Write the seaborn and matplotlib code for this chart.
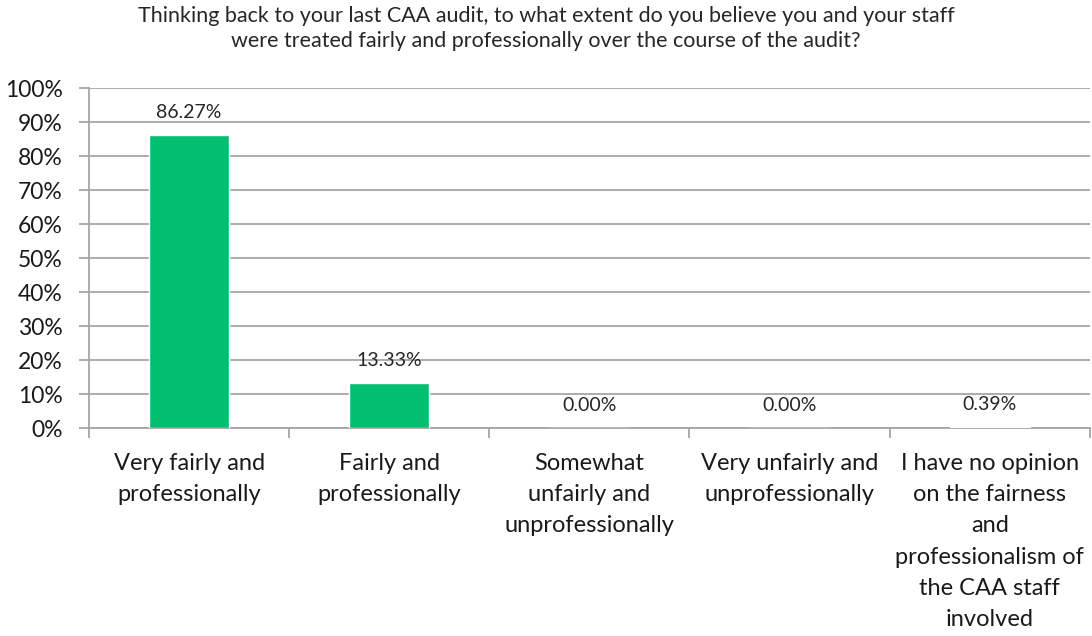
import matplotlib
matplotlib.use("Agg")
import matplotlib.pyplot as plt
import seaborn as sns
import pandas as pd
from matplotlib.ticker import FixedLocator

categories = [
    "Very fairly and\nprofessionally",
    "Fairly and\nprofessionally",
    "Somewhat\nunfairly and\nunprofessionally",
    "Very unfairly and\nunprofessionally",
    "I have no opinion\non the fairness\nand\nprofessionalism of\nthe CAA staff\ninvolved",
]
values = [86.27, 13.33, 0.00, 0.00, 0.39]
value_labels = ["86.27%", "13.33%", "0.00%", "0.00%", "0.39%"]
yticks = [0, 10, 20, 30, 40, 50, 60, 70, 80, 90, 100]
title = ("Thinking back to your last CAA audit, to what extent do you believe you and your staff\n"
         "were treated fairly and professionally over the course of the audit?")

sns.set_style("white")
plt.rcParams['font.family'] = ['Lato', 'DejaVu Sans']

df = pd.DataFrame({"cat": categories, "val": values})

fig = plt.figure(figsize=(10.92, 6.36), dpi=100)
ax = fig.add_axes([0.0815, 0.327, 0.9165, 0.5345])

sns.barplot(data=df, x="cat", y="val", color="#00BF6F", width=0.4, saturation=1,
            ax=ax, zorder=3)

ax.set_ylim(0, 100)
ax.set_xlim(-0.5, len(categories) - 0.5)
ax.set_yticks(yticks)
ax.set_yticklabels([f"{t}%" for t in yticks], fontsize=16.5, color="#1a1a1a")
ax.yaxis.grid(True, color="#A6A6A6", linewidth=1.3, zorder=0)
ax.set_axisbelow(True)
ax.set_xlabel("")
ax.set_ylabel("")

for s in ["top", "right"]:
    ax.spines[s].set_visible(False)
for s in ["left", "bottom"]:
    ax.spines[s].set_color("#A6A6A6")
    ax.spines[s].set_linewidth(1.3)

ax.tick_params(axis="y", length=7, width=1.3, color="#A6A6A6", pad=12, left=True)
ax.tick_params(axis="x", which="major", length=0, pad=18)
ax.set_xticklabels(categories, fontsize=17, linespacing=1.6, va="top", color="#1a1a1a")
ax.xaxis.set_minor_locator(FixedLocator([i - 0.5 for i in range(len(categories) + 1)]))
ax.tick_params(axis="x", which="minor", length=7, width=1.3, color="#A6A6A6", bottom=True)

for i, (v, lab) in enumerate(zip(values, value_labels)):
    ax.annotate(lab, (i, v), xytext=(0, 10), textcoords="offset points",
                ha="center", va="bottom", fontsize=14, color="#262626")

fig.text(0.5, 0.99, title, ha="center", va="top", fontsize=15.5, color="#262626",
         linespacing=1.3)

fig.savefig("out.png", dpi=100, facecolor="white")
